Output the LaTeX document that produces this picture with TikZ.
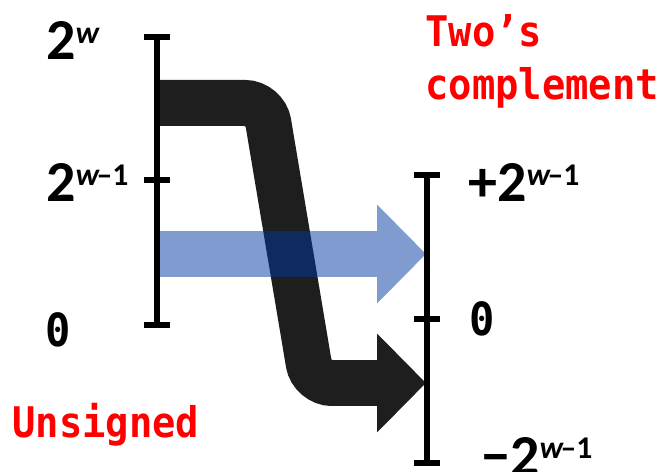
\documentclass[tikz,border=0pt]{standalone}
\usepackage{fontspec}
\newfontfamily\monofont[FakeStretch=0.92]{DejaVu Sans Mono Bold}
\newfontfamily\numfont{Carlito Bold}
\newfontfamily\numfontit{Carlito Bold Italic}
\usetikzlibrary{arrows.meta}

\definecolor{bandblack}{RGB}{30,30,30}
\definecolor{bandblue}{RGB}{0,55,159}

% 2 con esponente (segno, esponente)
\newcommand{\twopow}[2]{{\numfont\fontsize{33}{33}\selectfont #12\raisebox{9.5pt}{\fontsize{18}{18}\selectfont #2}}}
\newcommand{\wmone}{{\numfontit w}\kern-1.5pt–1}

\begin{document}
\begin{tikzpicture}[x=0.02cm, y=-0.02cm,
    axisline/.style={line width=3.3pt},
    redlabel/.style={text=red, font=\monofont\fontsize{24}{30}\selectfont, inner sep=0pt},
    numlabel/.style={inner sep=0pt, anchor=base west},
    zerolabel/.style={inner sep=0pt, anchor=base west, font=\monofont\fontsize{26}{26}\selectfont},
    band/.style={line width=0.92cm, -{Triangle[length=0.98cm 0 0, width=1.92cm 0 0]}}]

    \useasboundingbox (0,0) rectangle (665,472);

    % ==========================================
    % PUNTI DEGLI ASSI
    % ==========================================

    % Asse unsigned (sinistra)
    \coordinate (uTop) at (157,37);
    \coordinate (uMid) at (157,180);
    \coordinate (uBot) at (157,325);

    % Asse complemento a due (destra)
    \coordinate (tTop) at (427,175);
    \coordinate (tMid) at (427,319);
    \coordinate (tBot) at (427,463);

    % ==========================================
    % FRECCE
    % ==========================================

    % Freccia scura: [2^{w-1}, 2^w) -> negativi
    \coordinate (blackStart) at (160,103);
    \coordinate (blackEnd) at (426,383);
    \draw[band, bandblack, rounded corners=0.4cm]
        (blackStart) -- (265,103) -- (312,383) -- (blackEnd);

    % Freccia blu: [0, 2^{w-1}) -> positivi
    \coordinate (blueStart) at (160,254);
    \coordinate (blueEnd) at (426,254);
    \begin{scope}[transparency group, opacity=0.5]
        \draw[band, bandblue] (blueStart) -- (blueEnd);
    \end{scope}

    % ==========================================
    % ASSI
    % ==========================================

    \draw[axisline] (uTop) -- (uBot);
    \draw[axisline] (tTop) -- (tBot);
    \foreach \c in {uTop, uMid, uBot, tTop, tMid, tBot}
        \draw[axisline] (\c) ++(-13,0) -- ++(26,0);

    % ==========================================
    % ETICHETTE
    % ==========================================

    \node[numlabel] (uTopLabel) at (46,60) {\twopow{}{\numfontit w}};
    \node[numlabel] (uMidLabel) at (46,202) {\twopow{}{\wmone}};
    \node[zerolabel] (uZero) at (45,347) {0};
    \node[redlabel, anchor=base west] (unsigned) at (12,437) {Unsigned};

    \node[redlabel, anchor=north west, align=left] (twos) at (425,14) {Two’s\\complement};
    \node[numlabel] (tTopLabel) at (468,202) {\twopow{+}{\wmone}};
    \node[zerolabel] (tZero) at (469,336) {0};
    \node[numlabel] (tBotLabel) at (481,475) {\twopow{−}{\wmone}};

\end{tikzpicture}
\end{document}
